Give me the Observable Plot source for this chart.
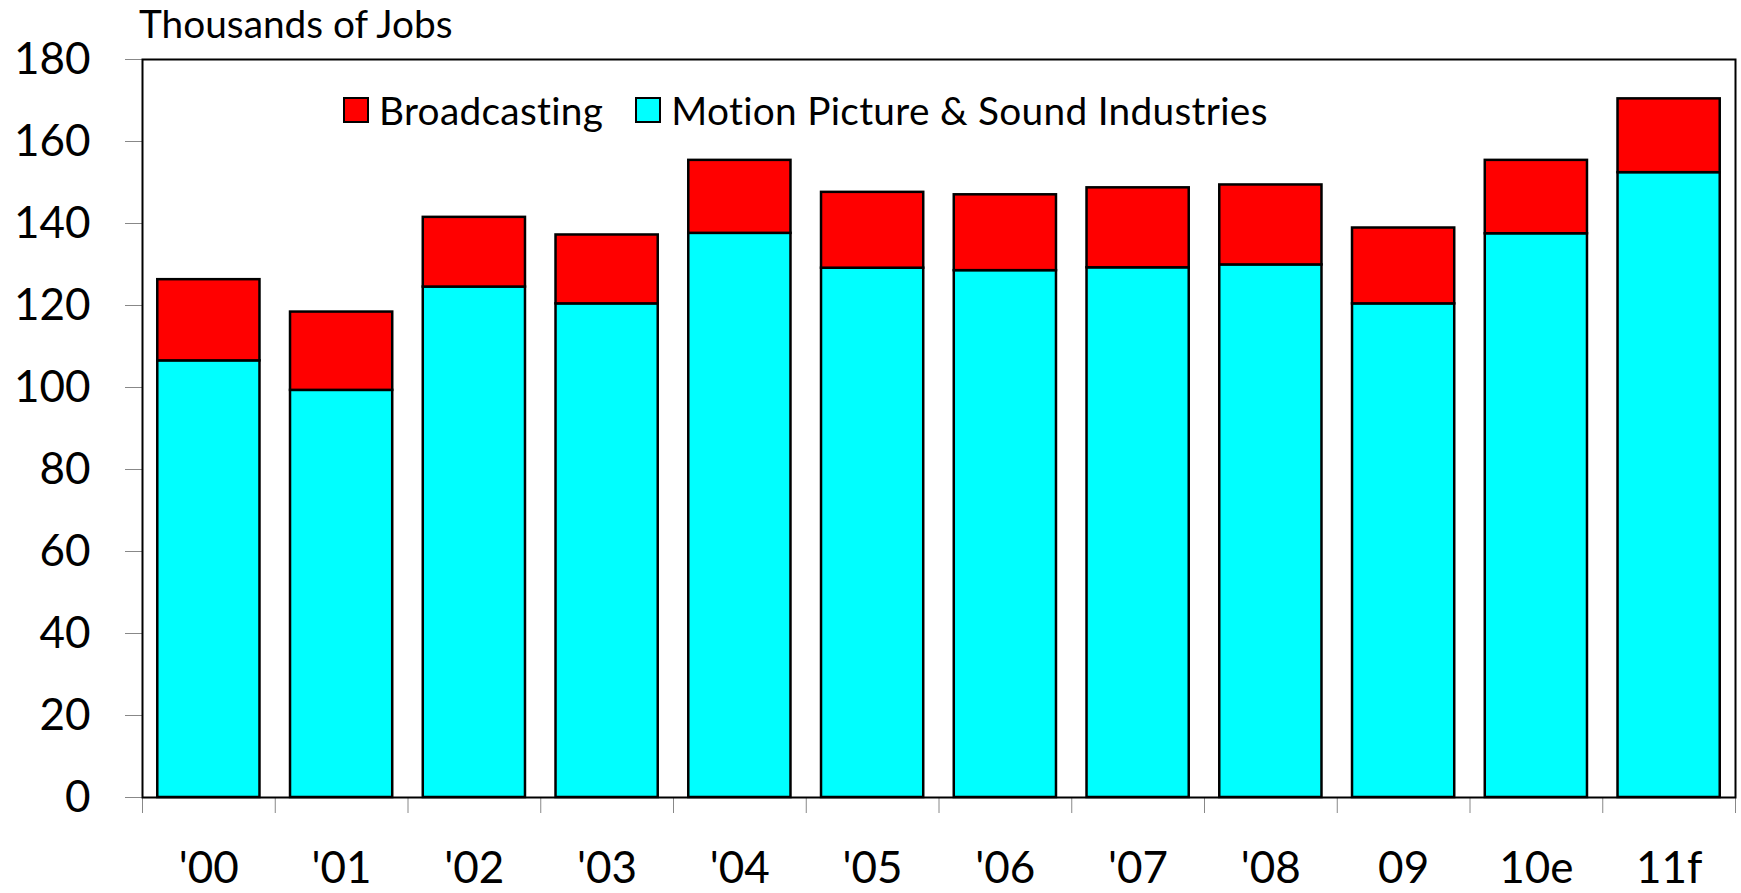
<!DOCTYPE html>
<html>
<head>
<meta charset="utf-8">
<script src="https://cdn.jsdelivr.net/npm/d3@7"></script>
<script src="https://cdn.jsdelivr.net/npm/@observablehq/plot@0.6"></script>
<style>
  html, body { margin: 0; padding: 0; background: #fff; }
  #wrap { position: relative; width: 1741px; height: 893px; font-family: Lato, sans-serif; color: #000; }
  #title { position: absolute; left: 139px; top: 0px; font-size: 38.8px; line-height: 46px; white-space: nowrap; }
  #legend { position: absolute; left: 343px; top: 87px; display: flex; align-items: center; font-size: 38.8px; line-height: 46px; white-space: nowrap; letter-spacing: 0.3px; }
  .sw { width: 22px; height: 22px; border: 2px solid #000; display: inline-block; margin-right: 10px; }
  .item { display: flex; align-items: center; margin-right: 32px; }
  svg text { font-family: Lato, sans-serif; }
</style>
</head>
<body>
<div id="wrap">
  <div id="chart"></div>
  <div id="title"></div>
  <div id="legend"></div>
</div>
<script>
const categories = ["'00", "'01", "'02", "'03", "'04", "'05", "'06", "'07", "'08", "09", "10e", "11f"];
const motionPicture = [106.5, 99.3, 124.5, 120.4, 137.6, 129.1, 128.5, 129.2, 129.9, 120.4, 137.5, 152.4];
const broadcasting = [19.8, 19.1, 17.0, 16.8, 17.8, 18.5, 18.5, 19.5, 19.5, 18.5, 17.9, 18.0];
const seriesNames = ["Motion Picture & Sound Industries", "Broadcasting"];
const seriesColors = ["#00FFFF", "#FF0000"];
const legendOrder = ["Broadcasting", "Motion Picture & Sound Industries"];
const yTicks = [0, 20, 40, 60, 80, 100, 120, 140, 160, 180];
const titleText = "Thousands of Jobs";

const rows = [];
categories.forEach((c, i) => {
  rows.push({year: c, series: seriesNames[0], value: motionPicture[i]});
  rows.push({year: c, series: seriesNames[1], value: broadcasting[i]});
});

const W = 1741, H = 893, mL = 142, mR = 6, mT = 59, mB = 96;
const halfStep = (W - mL - mR) / categories.length / 2;

const chart = Plot.plot({
  width: W, height: H,
  marginLeft: mL, marginRight: mR, marginTop: mT, marginBottom: mB,
  style: {fontFamily: "Lato, sans-serif", background: "#fff"},
  x: {domain: categories, paddingInner: 0.23, paddingOuter: 0.115, round: false, label: null},
  y: {domain: [0, 180], label: null},
  color: {domain: seriesNames, range: seriesColors},
  marks: [
    Plot.barY(rows, {x: "year", y: "value", fill: "series", stroke: "#000", strokeWidth: 2.5, order: seriesNames}),
    Plot.axisY({ticks: yTicks, tickSize: 17, tickPadding: 35, stroke: "#888", fontSize: 44, label: null, color: "#000"}),
    Plot.axisX({ticks: categories, tickSize: 16, dx: -halfStep, text: null, stroke: "#888", label: null}),
    Plot.axisX({ticks: categories.slice(-1), tickSize: 16, dx: halfStep, text: null, stroke: "#888", label: null}),
    Plot.axisX({ticks: categories, tickSize: 0, tickPadding: 54, fontSize: 44, label: null}),
    Plot.frame({stroke: "#000", strokeWidth: 2})
  ]
});
document.getElementById("chart").appendChild(chart);

document.getElementById("title").textContent = titleText;
const legend = document.getElementById("legend");
legendOrder.forEach(name => {
  const item = document.createElement("div");
  item.className = "item";
  const sw = document.createElement("span");
  sw.className = "sw";
  sw.style.background = seriesColors[seriesNames.indexOf(name)];
  const t = document.createElement("span");
  t.textContent = name;
  item.appendChild(sw);
  item.appendChild(t);
  legend.appendChild(item);
});
</script>
</body>
</html>
